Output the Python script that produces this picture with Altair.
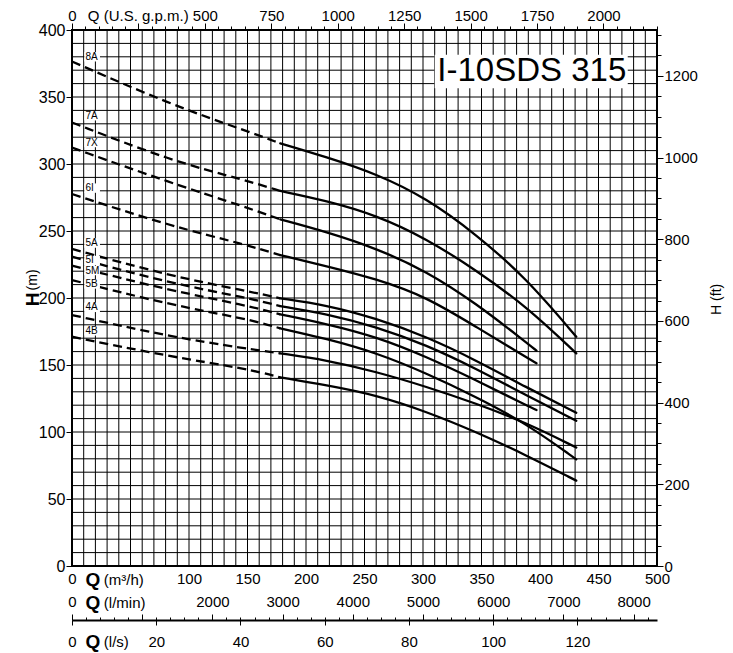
import altair as alt
import pandas as pd

FONT = "Liberation Sans"

# ---------------- data: pump curves, flow Q (m3/h) vs head H (m) ----------------
Q_LONG = [0, 84, 148, 178, 217, 260, 303, 345, 388, 431]
Q_SHORT = [0, 84, 148, 178, 217, 260, 303, 345, 388, 397]
Q_DASH_END = 178

H_8A = [376.5, 344.5, 325, 315.4, 305.3, 292.7, 274.5, 247.8, 215.1, 171.1]
H_7A = [331, 302.5, 288, 279.9, 272.7, 261.9, 244.3, 221.0, 194.0, 158.7]
H_7X = [312.2, 286, 268, 258.7, 249.5, 237.1, 220.0, 196.2, 167.0, 160.7]
H_6I = [277.6, 253.7, 240, 232.0, 223.9, 214.3, 200.8, 178.7, 155.9, 151.3]
H_5A = [236.6, 216.4, 205.5, 199.8, 194.8, 184.8, 171.1, 153.7, 133.5, 114.4]
H_5I = [230.8, 211, 200.5, 194.0, 188.3, 178.6, 164.9, 147.5, 127.5, 108.4]
H_5M = [224.1, 205.5, 194.8, 187.8, 180.8, 171.1, 156.2, 138.8, 120.1, 116.4]
H_5B = [213.4, 194.8, 184.8, 177.4, 169.7, 159.2, 143.8, 126.4, 106.5, 79.6]
H_4A = [187.3, 171.1, 162.4, 158.7, 153.7, 145.0, 133.8, 121.4, 107.0, 88.4]
H_4B = [171.1, 156.2, 147.5, 140.8, 135.0, 127.6, 115.2, 100.2, 82.8, 63.7]

CURVE_NAMES = ["8A", "7A", "7X", "6I", "5A", "5I", "5M", "5B", "4A", "4B"]
CURVE_Q = [Q_LONG, Q_LONG, Q_SHORT, Q_SHORT, Q_LONG, Q_LONG, Q_SHORT, Q_LONG, Q_LONG, Q_LONG]
CURVE_H = [H_8A, H_7A, H_7X, H_6I, H_5A, H_5I, H_5M, H_5B, H_4A, H_4B]

LABEL_Q = 11.5
LABEL_H = [380, 336, 316, 282, 241, 228, 220.5, 210.5, 193, 175.5]

MODEL = "I-10SDS 315"
MODEL_BOX_Q = [310, 475]
MODEL_BOX_H = [356.5, 381.5]
MODEL_POS = [393, 369.5]

# grid and axis tick / label lists
GRID_Q = list(range(0, 501, 10))
GRID_H = list(range(0, 401, 10))
M3H_LABELS = [0, 100, 150, 200, 250, 300, 350, 400, 450, 500]
H_LABELS = list(range(0, 401, 50))
GPM_MINOR = list(range(0, 2201, 50))
GPM_MAJOR = [0, 250, 500, 750, 1000, 1250, 1500, 1750, 2000]
FT_MINOR = list(range(0, 1301, 50))
FT_MAJOR = list(range(0, 1201, 200))
LMIN_LABELS = [0, 2000, 3000, 4000, 5000, 6000, 7000, 8000]
LMIN_MINOR = list(range(0, 8201, 200))
LMIN_MAJOR = list(range(0, 8001, 1000))
LS_LABELS = list(range(0, 121, 20))

Q_MAX, H_MAX = 500, 400
GPM_PER_M3H = 4.402868
FT_PER_M = 3.28084
LMIN_PER_M3H = 1000 / 60
LS_PER_M3H = 1 / 3.6

W, H = 585, 536
LS_OFFSET = 54

# ---------------- frames ----------------
rows = []
for name, qs, hs in zip(CURVE_NAMES, CURVE_Q, CURVE_H):
    for q, h in zip(qs, hs):
        if q <= Q_DASH_END:
            rows.append(dict(curve=name, q=q, h=h, part="dash"))
        if q >= Q_DASH_END:
            rows.append(dict(curve=name, q=q, h=h, part="solid"))
curves = pd.DataFrame(rows)

labels = pd.DataFrame({"curve": CURVE_NAMES, "q": [LABEL_Q] * len(CURVE_NAMES), "h": LABEL_H})
labels["x1"] = labels["q"] - 1.0
labels["x2"] = labels["q"] + [len(c) * 5.6 + 1.2 for c in CURVE_NAMES]
labels["y1"] = labels["h"] - 3.5
labels["y2"] = labels["h"] + 3.5

model_box = pd.DataFrame({"x1": [MODEL_BOX_Q[0]], "x2": [MODEL_BOX_Q[1]],
                          "y1": [MODEL_BOX_H[0]], "y2": [MODEL_BOX_H[1]]})
model_txt = pd.DataFrame({"t": [MODEL], "q": [MODEL_POS[0]], "h": [MODEL_POS[1]]})

bold_txt = pd.DataFrame({"t": ["Q", "Q", "Q"], "q": [17.9, 17.9, 17.9], "h": [-10.6, -27.8, -56.6]})
unit_txt = pd.DataFrame({"t": ["(m³/h)", "(l/min)", "(l/s)", "Q (U.S. g.p.m.)"],
                         "q": [27.2, 27.2, 27.2, 13.5], "h": [-10.4, -27.6, -56.6, 410.6]})
h_bold = pd.DataFrame({"t": ["H"], "q": [-33.0], "h": [199]})
h_unit = pd.DataFrame({"t": ["(m)", "H (ft)"], "q": [-33.0, 551], "h": [213.5, 199]})

grid_q = pd.DataFrame({"g": GRID_Q})
grid_h = pd.DataFrame({"g": GRID_H})

DUMMY = pd.DataFrame({"v": [0.0]})

XS = alt.Scale(domain=[0, Q_MAX], nice=False, zero=False)
YS = alt.Scale(domain=[0, H_MAX], nice=False, zero=False)

X0 = alt.X("q:Q", scale=XS, axis=None)
Y0 = alt.Y("h:Q", scale=YS, axis=None)

vgrid = alt.Chart(grid_q).mark_rule(color="black", strokeWidth=1).encode(
    x=alt.X("g:Q", scale=XS, axis=None))
hgrid = alt.Chart(grid_h).mark_rule(color="black", strokeWidth=1).encode(
    y=alt.Y("g:Q", scale=YS, axis=None))

dashed = alt.Chart(curves[curves.part == "dash"]).mark_line(
    color="black", strokeWidth=2.3, strokeDash=[9, 5], interpolate="basis"
).encode(x=X0, y=Y0, detail="curve:N")

solid = alt.Chart(curves[curves.part == "solid"]).mark_line(
    color="black", strokeWidth=2.3, interpolate="basis", strokeCap="round"
).encode(x=X0, y=Y0, detail="curve:N")

label_box = alt.Chart(labels).mark_rect(color="white").encode(
    x=alt.X("x1:Q", scale=XS, axis=None), x2="x2:Q",
    y=alt.Y("y1:Q", scale=YS, axis=None), y2="y2:Q")
label_text = alt.Chart(labels).mark_text(
    align="left", baseline="middle", font=FONT, fontSize=10, color="black"
).encode(x=X0, y=Y0, text="curve:N")

mbox = alt.Chart(model_box).mark_rect(color="white").encode(
    x=alt.X("x1:Q", scale=XS, axis=None), x2="x2:Q",
    y=alt.Y("y1:Q", scale=YS, axis=None), y2="y2:Q")
mtext = alt.Chart(model_txt).mark_text(
    align="center", baseline="middle", font=FONT, fontSize=33, color="black"
).encode(x=X0, y=Y0, text="t:N")

qbold = alt.Chart(bold_txt).mark_text(
    align="center", baseline="middle", font=FONT, fontSize=19, fontWeight="bold", color="black"
).encode(x=X0, y=Y0, text="t:N")
units = alt.Chart(unit_txt).mark_text(
    align="left", baseline="middle", font=FONT, fontSize=15, color="black"
).encode(x=X0, y=Y0, text="t:N")
hbold = alt.Chart(h_bold).mark_text(
    align="center", baseline="middle", font=FONT, fontSize=19, fontWeight="bold", angle=270, color="black"
).encode(x=X0, y=Y0, text="t:N")
hunit = alt.Chart(h_unit).mark_text(
    align="center", baseline="middle", font=FONT, fontSize=14, angle=270, color="black"
).encode(x=X0, y=Y0, text="t:N")

main = alt.layer(vgrid, hgrid, dashed, solid, label_box, label_text, mbox, mtext,
                 qbold, units, hbold, hunit)


def make_axis(**kw):
    base = dict(labelFont=FONT, labelColor="black", tickColor="black", tickWidth=1,
                domain=False, labelFlush=False, labelOverlap=False, title=None,
                grid=False, format="d")
    base.update(kw)
    return alt.Axis(**base)


def x_layer(dom, **kw):
    return alt.Chart(DUMMY).mark_point(opacity=0).encode(
        x=alt.X("v:Q", scale=alt.Scale(domain=dom, nice=False, zero=False), axis=make_axis(**kw)))


def y_layer(dom, **kw):
    return alt.Chart(DUMMY).mark_point(opacity=0).encode(
        y=alt.Y("v:Q", scale=alt.Scale(domain=dom, nice=False, zero=False), axis=make_axis(**kw)))


bottom_m3h = x_layer([0, Q_MAX], orient="bottom", values=M3H_LABELS, ticks=False, tickSize=0,
                     labelPadding=5, labelFontSize=15)
left_m = y_layer([0, H_MAX], orient="left", values=H_LABELS, tickSize=6, labelPadding=1,
                 labelFontSize=16)
top_minor = x_layer([0, Q_MAX * GPM_PER_M3H], orient="top", values=GPM_MINOR, tickSize=4, labels=False)
top_major = x_layer([0, Q_MAX * GPM_PER_M3H], orient="top", values=GPM_MAJOR, tickSize=7,
                    labelPadding=0, labelFontSize=15,
                    labelExpr="datum.value == 250 ? '' : datum.label")
right_minor = y_layer([0, H_MAX * FT_PER_M], orient="right", values=FT_MINOR, tickSize=4, labels=False)
right_major = y_layer([0, H_MAX * FT_PER_M], orient="right", values=FT_MAJOR, tickSize=6,
                      labelPadding=1, labelFontSize=15)
lmin_labels = x_layer([0, Q_MAX * LMIN_PER_M3H], orient="bottom", offset=28, values=LMIN_LABELS,
                      ticks=False, tickSize=0, labelPadding=0, labelFontSize=15)
ls_axis = x_layer([0, Q_MAX * LS_PER_M3H], orient="bottom", offset=LS_OFFSET, values=LS_LABELS,
                  tickSize=5, labelPadding=9, labelFontSize=15, domain=True,
                  domainColor="black", domainWidth=2)
lmin_minor = x_layer([0, Q_MAX * LMIN_PER_M3H], orient="top", offset=-(H + LS_OFFSET),
                     values=LMIN_MINOR, tickSize=3, labels=False)
lmin_major = x_layer([0, Q_MAX * LMIN_PER_M3H], orient="top", offset=-(H + LS_OFFSET),
                     values=LMIN_MAJOR, tickSize=6, labels=False)

chart = alt.layer(
    main, bottom_m3h, left_m, top_minor, top_major, right_minor, right_major,
    lmin_labels, ls_axis, lmin_minor, lmin_major
).resolve_scale(x="independent", y="independent").properties(
    width=W, height=H,
    padding={"left": 64, "top": 22, "right": 68, "bottom": 88},
    autosize=alt.AutoSizeParams(type="none"),
).configure_view(stroke="black", strokeWidth=2)

chart.save("out.html", embed_options={"renderer": "svg", "actions": False})
